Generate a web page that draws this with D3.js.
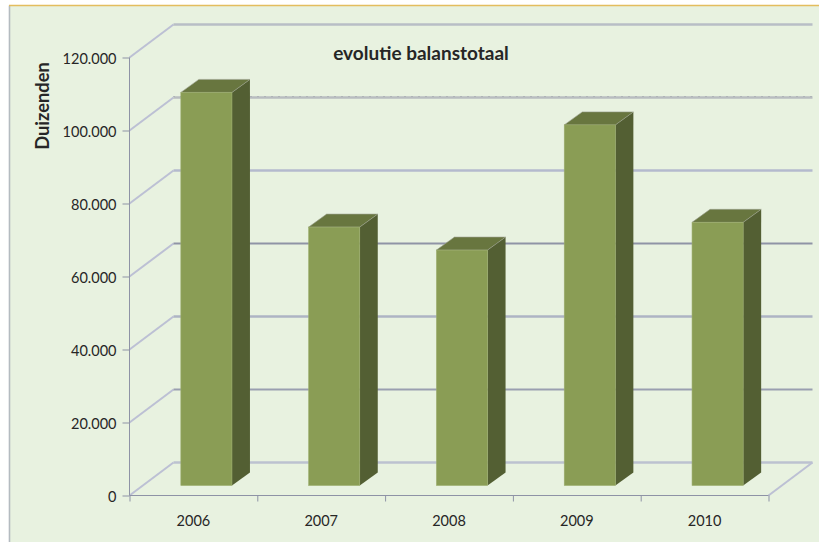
<!DOCTYPE html>
<html><head><meta charset="utf-8">
<script src="https://cdnjs.cloudflare.com/ajax/libs/d3/7.8.5/d3.min.js"></script>
<style>html,body{margin:0;padding:0;background:#fff}svg{display:block}text{font-family:Lato,"Open Sans",sans-serif}</style>
</head><body><div id="c"></div>
<script>
const categories = ["2006","2007","2008","2009","2010"];
const values = [107700, 70800, 64500, 98800, 72100];
const yTicks = [0,20000,40000,60000,80000,100000,120000];
const tickLabels = ["0","20.000","40.000","60.000","80.000","100.000","120.000"];
const titleText = "evolutie balanstotaal";
const yTitle = "Duizenden";

const W=819,H=542;
const svg=d3.select("#c").append("svg").attr("width",W).attr("height",H);
svg.append("rect").attr("x",9.5).attr("y",5.5).attr("width",W).attr("height",H).attr("fill","#e8f2e0");
svg.append("line").attr("x1",9.5).attr("x2",9.5).attr("y1",5.5).attr("y2",H).attr("stroke","#b4bbc0").attr("stroke-width",1.6);
svg.append("line").attr("x1",9).attr("x2",W).attr("y1",5.5).attr("y2",5.5).attr("stroke","#e3bd5e").attr("stroke-width",1.3);

const x=d3.scaleBand().domain(categories).range([129.5,768.5]).paddingInner(0.6).paddingOuter(0.3);
const y=d3.scaleLinear().domain([0,120000]).range([495.5,57.5]);
const wallDx=44, wallDy=-33, barDx=18, barDy=-13, baseDx=13, baseDy=-10;
const grid=svg.append("g");
// per-level appearance of the gridlines
const backColor=["#bcc2d0","#9a9fb0","#aeb4c4","#8f94a6","#b4bace","#b8bdc0","#b8bec6"];
yTicks.forEach((t,i)=>{
  const yy=y(t);
  grid.append("line").attr("x1",x.range()[0]).attr("y1",yy).attr("x2",x.range()[0]+wallDx).attr("y2",yy+wallDy)
    .attr("stroke","#bcc0d4").attr("stroke-width",2);
  grid.append("line").attr("x1",x.range()[0]+wallDx).attr("y1",yy+wallDy).attr("x2",x.range()[1]+wallDx).attr("y2",yy+wallDy)
    .attr("stroke",backColor[i]).attr("stroke-width",i===3||i===1?2:2.4);
  if(i===5) grid.append("line").attr("x1",x.range()[0]+wallDx).attr("y1",yy+wallDy-1).attr("x2",x.range()[1]+wallDx).attr("y2",yy+wallDy-1)
    .attr("stroke","#9a9fa6").attr("stroke-width",1).attr("stroke-dasharray","1 6");
});
grid.append("line").attr("x1",x.range()[1]).attr("y1",y(0)).attr("x2",x.range()[1]+wallDx).attr("y2",y(0)+wallDy)
  .attr("stroke","#bcc0d4").attr("stroke-width",2);

// axes
const axC="#8e93a6";
const axL=d3.axisLeft(y).tickValues(yTicks).tickSize(7).tickPadding(6).tickFormat((d,i)=>tickLabels[i]);
const gy=svg.append("g").attr("transform","translate(129.5,0)").call(axL);
const bandEdges=d3.range(categories.length+1).map(i=>x.range()[0]+i*x.step());
const xEdge=d3.scalePoint().domain(bandEdges.map(String)).range(x.range());
const gx=svg.append("g").attr("transform",`translate(0,${y(0)})`).call(d3.axisBottom(xEdge).tickSize(6).tickFormat(""));
[gy,gx].forEach(g=>{g.selectAll("path").attr("stroke",axC).attr("stroke-width",1);g.selectAll("line").attr("stroke",axC);});
gy.select("path").attr("d",`M0,${y(120000)}V${y(0)}`);
gx.select("path").attr("d",`M${x.range()[0]},0H${x.range()[1]}`);
gy.selectAll("text").attr("font-size",14.5).attr("fill","#262626").attr("dy","0.38em");
svg.selectAll(".xl").data(categories).join("text").attr("class","xl")
  .attr("x",d=>x(d)+x.bandwidth()/2).attr("y",526).attr("text-anchor","middle")
  .attr("font-size",14.5).attr("fill","#262626").text(d=>d);

// bars
const bandH=v=>y(0)-y(v);
const bars=svg.selectAll(".bar").data(categories.map((c,i)=>({c,v:values[i]}))).join("g").attr("class","bar");
const bw=x.bandwidth();
bars.append("path").attr("fill","#535f33").attr("d",d=>{
  const l=x(d.c)+baseDx+bw,b=y(0)+baseDy,t=b-bandH(d.v);
  return `M${l},${t}L${l+barDx},${t+barDy}V${b+barDy}L${l},${b}Z`;});
bars.append("path").attr("fill","#68763f").attr("stroke","#9aa08e").attr("stroke-width",0.6).attr("d",d=>{
  const l=x(d.c)+baseDx,t=y(0)+baseDy-bandH(d.v);
  return `M${l},${t}L${l+barDx},${t+barDy}H${l+bw+barDx}L${l+bw},${t}Z`;});
bars.append("rect").attr("fill","#8a9d55").attr("stroke","#9cad6e").attr("stroke-width",0.6)
  .attr("x",d=>x(d.c)+baseDx).attr("width",bw)
  .attr("y",d=>y(0)+baseDy-bandH(d.v)).attr("height",d=>bandH(d.v));

svg.append("text").attr("x",421).attr("y",60).attr("text-anchor","middle")
  .attr("font-size",19).attr("font-weight",700).attr("fill","#262626").text(titleText);
svg.append("text").attr("transform","translate(49,106) rotate(-90)").attr("text-anchor","middle")
  .attr("font-size",18.3).attr("font-weight",700).attr("fill","#262626").text(yTitle);
</script></body></html>
